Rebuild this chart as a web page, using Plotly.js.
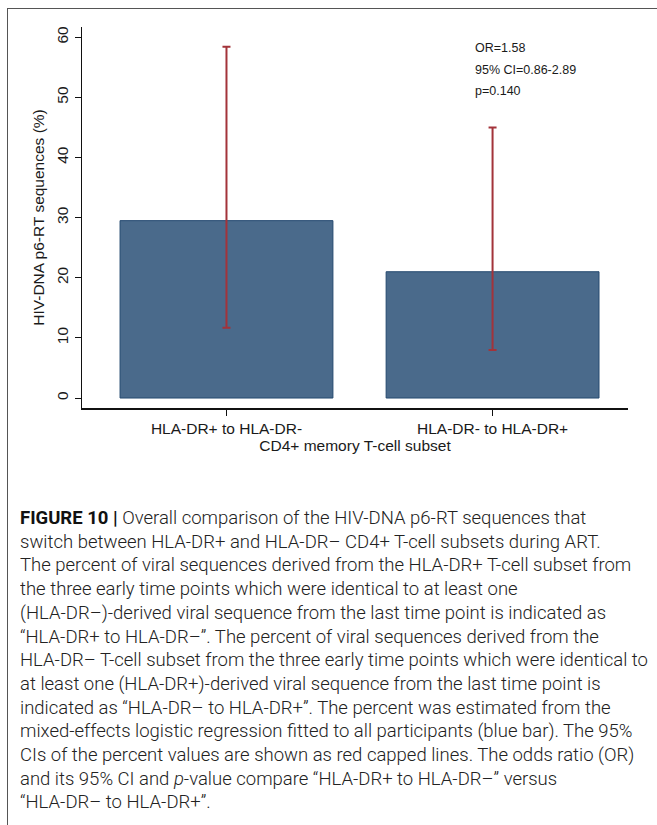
<!DOCTYPE html>
<html>
<head>
<meta charset="utf-8">
<script src="https://cdn.plot.ly/plotly-3.0.1.min.js"></script>
<style>
  html, body { margin: 0; padding: 0; background: #fff; width: 657px; height: 825px; overflow: hidden; }
  #frame { position: absolute; left: 7px; top: 8px; width: 700px; height: 900px;
           border-top: 1.5px solid #555; border-left: 1.5px solid #555; }
  #chart { position: absolute; left: 0; top: 0; width: 657px; height: 470px; }
  #caption { position: absolute; left: 20px; top: 506px;
             font-family: "Roboto", "Liberation Sans", sans-serif; font-weight: 300;
             font-size: 19px; line-height: 23.7px; color: #222; white-space: nowrap;
             transform-origin: 0 0; }
  #caption div { display: block; width: max-content; }
  #caption b { color: #111; font-weight: 700; }
</style>
</head>
<body>
<div id="frame"></div>
<div id="chart"></div>
<div id="caption"></div>
<script>
// ---- data ----
const categories = ['HLA-DR+ to HLA-DR-', 'HLA-DR- to HLA-DR+'];
const percent = [29.5, 21.0];
const ciLower = [11.7, 8.0];
const ciUpper = [58.4, 45.0];
const statLines = ['OR=1.58', '95% CI=0.86-2.89', 'p=0.140'];
const yTicks = [0, 10, 20, 30, 40, 50, 60];
const captionLines = [
  '<b>FIGURE 10 |</b> Overall comparison of the HIV-DNA p6-RT sequences that',
  'switch between HLA-DR+ and HLA-DR– CD4+ T-cell subsets during ART.',
  'The percent of viral sequences derived from the HLA-DR+ T-cell subset from',
  'the three early time points which were identical to at least one',
  '(HLA-DR–)-derived viral sequence from the last time point is indicated as',
  '“HLA-DR+ to HLA-DR–”. The percent of viral sequences derived from the',
  'HLA-DR– T-cell subset from the three early time points which were identical to',
  'at least one (HLA-DR+)-derived viral sequence from the last time point is',
  'indicated as “HLA-DR– to HLA-DR+”. The percent was estimated from the',
  'mixed-effects logistic regression fitted to all participants (blue bar). The 95%',
  'CIs of the percent values are shown as red capped lines. The odds ratio (OR)',
  'and its 95% CI and <i>p</i>-value compare “HLA-DR+ to HLA-DR–” versus',
  '“HLA-DR– to HLA-DR+”.'
];

// ---- chart ----
const xIdx = categories.map((c, i) => i);
const trace = {
  type: 'bar',
  x: xIdx,
  y: percent,
  marker: { color: '#4a6a8b', line: { color: '#24496f', width: 1 } },
  error_y: {
    type: 'data', symmetric: false,
    array: ciUpper.map((u, i) => u - percent[i]),
    arrayminus: ciLower.map((l, i) => percent[i] - l),
    color: '#a3333a', thickness: 2, width: 4
  },
  hoverinfo: 'skip'
};

const font = { family: '"Liberation Sans", Arial, sans-serif', size: 15.5, color: '#1a1a1a' };
const layout = {
  width: 657, height: 470,
  margin: { l: 82, r: 29, t: 27, b: 62 },
  paper_bgcolor: 'rgba(0,0,0,0)', plot_bgcolor: 'rgba(0,0,0,0)',
  font: font,
  showlegend: false,
  bargap: 0.2,
  xaxis: {
    range: [-0.543, 1.509],
    tickvals: xIdx, ticktext: categories,
    showline: true, linecolor: '#111', linewidth: 1.5,
    ticks: 'outside', ticklen: 6, tickcolor: '#111', tickwidth: 1,
    showgrid: false, zeroline: false,
    tickfont: font,
    title: { text: 'CD4+ memory T-cell subset', font: font, standoff: 4 }
  },
  yaxis: {
    range: [-1.66, 61.7],
    tickvals: yTicks,
    tickangle: -90,
    showline: true, linecolor: '#111', linewidth: 1.5,
    ticks: 'outside', ticklen: 6, tickcolor: '#111', tickwidth: 1,
    showgrid: false, zeroline: false,
    tickfont: font,
    title: { text: 'HIV-DNA p6-RT sequences (%)', font: font, standoff: 6 }
  },
  annotations: statLines.map((t, i) => ({
    text: t, xref: 'paper', yref: 'paper',
    x: 0.716, y: [0.945, 0.887, 0.832][i],
    xanchor: 'left', yanchor: 'middle', showarrow: false,
    font: { family: '"Liberation Sans", Arial, sans-serif', size: 12.5, color: '#1a1a1a' }
  }))
};

Plotly.newPlot('chart', [trace], layout, { displayModeBar: false, staticPlot: true });

const cap = document.getElementById('caption');
cap.innerHTML = captionLines.map(l => '<div>' + l + '</div>').join('');
// compress horizontally so the widest line spans the same width as in the reference
const widest = Math.max(...Array.from(cap.children).map(d => d.getBoundingClientRect().width));
cap.style.transform = 'scaleX(' + (628 / widest) + ')';
</script>
</body>
</html>
